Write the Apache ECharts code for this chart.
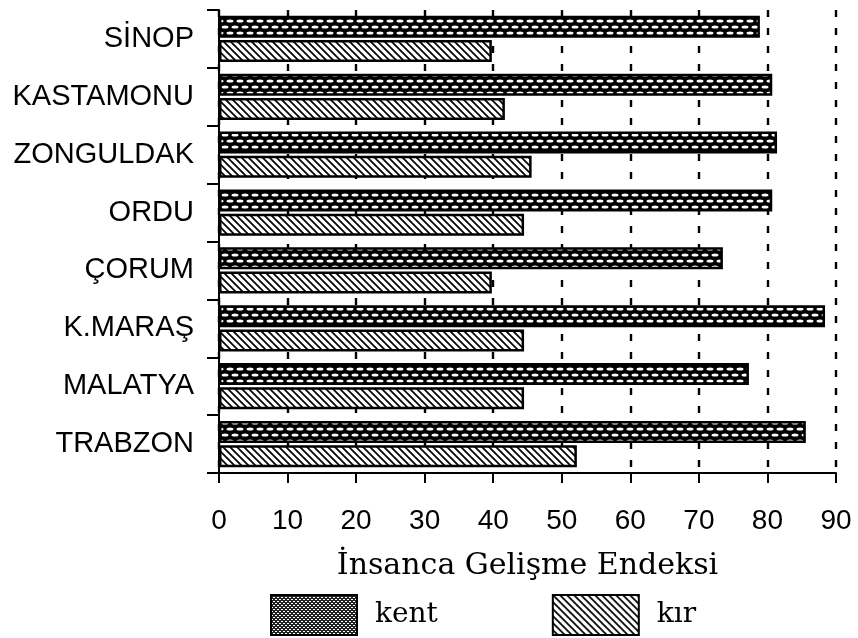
<!DOCTYPE html>
<html>
<head>
<meta charset="utf-8">
<script src="https://cdn.jsdelivr.net/npm/echarts@6/dist/echarts.min.js"></script>
<style>html,body{margin:0;padding:0;background:#fff}#c{width:858px;height:638px}</style>
</head>
<body>
<div id="c"></div>
<script>
const categories = ['SİNOP', 'KASTAMONU', 'ZONGULDAK', 'ORDU', 'ÇORUM', 'K.MARAŞ', 'MALATYA', 'TRABZON'];
const kentValues = [78.9, 80.7, 81.4, 80.7, 73.5, 88.4, 77.3, 85.6];
const kirValues = [39.8, 41.7, 45.6, 44.5, 39.8, 44.5, 44.5, 52.2];
const xTicks = [0, 10, 20, 30, 40, 50, 60, 70, 80, 90];
const seriesNames = ['kent', 'kır'];
const axisTitle = 'İnsanca Gelişme Endeksi';

function makeKent() {
  const c = document.createElement('canvas');
  c.width = 10; c.height = 12;
  const g = c.getContext('2d');
  g.fillStyle = '#000'; g.fillRect(0, 0, 10, 12);
  g.fillStyle = '#fff';
  const ell = (x, y) => { g.beginPath(); g.ellipse(x, y, 3.5, 1.6, 0, 0, Math.PI * 2); g.fill(); };
  ell(5, 3); ell(0, 9); ell(10, 9);
  return c;
}
function makeKir() {
  const c = document.createElement('canvas');
  c.width = 7; c.height = 7;
  const g = c.getContext('2d');
  g.fillStyle = '#fff'; g.fillRect(0, 0, 7, 7);
  g.strokeStyle = '#000'; g.lineWidth = 1.7;
  g.beginPath();
  g.moveTo(-1, -1); g.lineTo(8, 8);
  g.moveTo(-1, 6); g.lineTo(1, 8);
  g.moveTo(6, -1); g.lineTo(8, 1);
  g.stroke();
  return c;
}
function makeKentLegend() {
  const c = document.createElement('canvas');
  c.width = 4; c.height = 4;
  const g = c.getContext('2d');
  g.fillStyle = '#222'; g.fillRect(0, 0, 4, 4);
  g.fillStyle = '#fff';
  g.fillRect(0, 0, 2, 1); g.fillRect(2, 2, 2, 1);
  return c;
}

const kentPat = { image: makeKent(), repeat: 'repeat' };
const kirPat = { image: makeKir(), repeat: 'repeat' };
const kentLegPat = { image: makeKentLegend(), repeat: 'repeat' };

const chart = echarts.init(document.getElementById('c'), null, { renderer: 'canvas' });
chart.setOption({
  animation: false,
  backgroundColor: '#fff',
  grid: { left: 219, right: 22, top: 10, bottom: 165, containLabel: false },
  legend: {
    left: 270, top: 594, padding: 0,
    itemWidth: 86, itemHeight: 40, itemGap: 114,
    icon: 'rect',
    textStyle: { fontFamily: 'DejaVu Serif', fontSize: 28, color: '#000', padding: [0, 0, 0, 13] },
    data: [
      { name: seriesNames[0], itemStyle: { color: kentLegPat, borderColor: '#000', borderWidth: 2 } },
      { name: seriesNames[1], itemStyle: { color: kirPat, borderColor: '#000', borderWidth: 2 } }
    ]
  },
  xAxis: {
    type: 'value', min: xTicks[0], max: xTicks[xTicks.length - 1], interval: 10,
    name: axisTitle, nameLocation: 'middle', nameGap: 78,
    nameTextStyle: { fontFamily: 'DejaVu Serif', fontSize: 30, color: '#000' },
    axisLine: { show: true, lineStyle: { color: '#000', width: 2 } },
    axisTick: { show: true, length: 10, lineStyle: { color: '#000', width: 2 } },
    axisLabel: { fontFamily: 'Liberation Sans', fontSize: 28, color: '#000', margin: 34 },
    splitLine: { show: true, lineStyle: { color: '#000', width: 2.4, type: [7, 11] } }
  },
  yAxis: {
    type: 'category', data: categories, inverse: true,
    axisLine: { show: true, lineStyle: { color: '#000', width: 2 } },
    axisTick: { show: true, length: 12, lineStyle: { color: '#000', width: 2 } },
    axisLabel: { fontFamily: 'Liberation Sans', fontSize: 29, color: '#000', margin: 25 },
    splitLine: { show: false }
  },
  series: [
    {
      name: seriesNames[0], type: 'bar', data: kentValues,
      barWidth: 22, barGap: '10%',
      itemStyle: { color: kentPat, borderColor: '#000', borderWidth: 2.5 }
    },
    {
      name: seriesNames[1], type: 'bar', data: kirValues,
      barWidth: 22, barGap: '10%',
      itemStyle: { color: kirPat, borderColor: '#000', borderWidth: 2.5 }
    }
  ]
});
</script>
</body>
</html>
